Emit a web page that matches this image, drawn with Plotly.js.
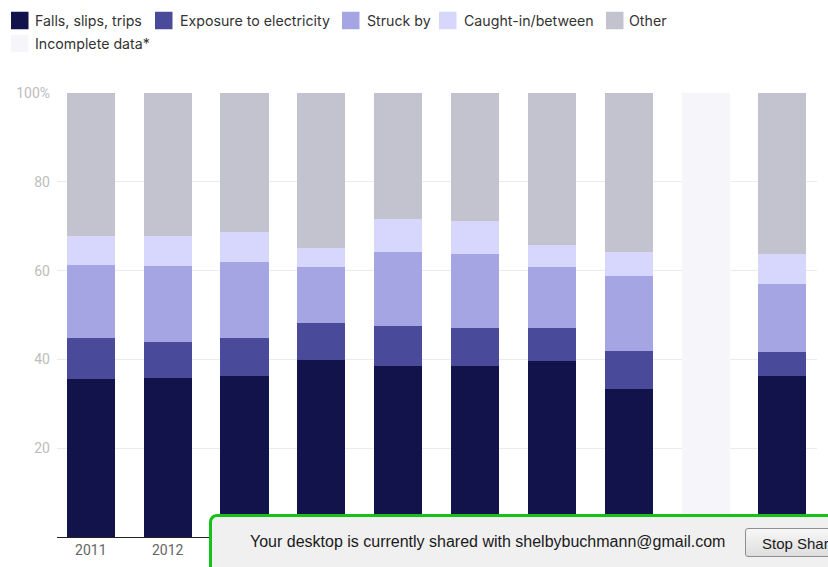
<!DOCTYPE html>
<html><head><meta charset="utf-8">
<script src="https://cdn.plot.ly/plotly-3.0.1.min.js"></script>
<style>
html,body{margin:0;padding:0;background:#fff;}
#wrap{position:relative;width:828px;height:567px;overflow:hidden;}
#chart{width:828px;height:567px;}
#share{position:absolute;left:209px;top:514px;width:640px;height:60px;box-sizing:border-box;border:3px solid #17c217;border-radius:8px;background:#f0f0f0;font-family:"Liberation Sans",Arial,sans-serif;font-size:16px;color:#1a1a1a;}
#share .msg{position:absolute;left:38px;top:16px;white-space:nowrap;}
#share .btn{position:absolute;left:533px;top:11px;width:110px;height:29px;box-sizing:border-box;border:1px solid #8f8f8f;border-radius:3px;background:linear-gradient(#f7f7f7,#dedede);padding:6px 0 0 16px;white-space:nowrap;font-size:15px;}
</style></head>
<body><div id="wrap"><div id="chart"></div>
<div id="share"><span class="msg">Your desktop is currently shared with shelbybuchmann@gmail.com</span><span class="btn">Stop Sharing</span></div></div>
<script>
const years = ['2011','2012','2013','2014','2015','2016','2017','2018','2019','2020'];
const falls       = [35.5, 35.7, 36.3, 39.8, 38.6, 38.6, 39.6, 33.4, null, 36.3];
const electricity = [9.4, 8.3, 8.6, 8.3, 8.9, 8.4, 7.4, 8.5, null, 5.3];
const struckBy    = [16.4, 17.0, 17.0, 12.6, 16.8, 16.7, 13.7, 16.8, null, 15.3];
const caughtIn    = [6.5, 6.8, 6.8, 4.5, 7.3, 7.4, 5.1, 5.6, null, 6.8];
const other       = [32.2, 32.2, 31.3, 34.8, 28.4, 28.9, 34.2, 35.7, null, 36.3];
const incomplete  = [null, null, null, null, null, null, null, null, 100, null];
const seriesNames = ['Falls, slips, trips','Exposure to electricity','Struck by','Caught-in/between','Other','Incomplete data*'];
const seriesColors = ['#13134b','#4a4a9a','#a5a5e3','#d7d7fd','#c3c3cf','#f6f5fa'];
const yTickVals = [0,20,40,60,80,100];
const yTickText = ['','20','40','60','80','100%'];

const allSeries = [falls, electricity, struckBy, caughtIn, other, incomplete];
const traces = allSeries.map((vals,i)=>({
  type:'bar', x:years, y:vals, name:seriesNames[i],
  marker:{color:seriesColors[i], line:{width:0}}, hoverinfo:'x+y+name', showlegend:false
}));

const W=828,H=567,L=57,R=11,T=93,B=30;
const pw=W-L-R, ph=H-T-B;
const px=x=>(x-L)/pw, py=y=>1-(y-T)/ph;
// custom legend: [swatch left, text left, row center y]
const legendPos = [[11,33,20.5],[155,178,20.5],[342,365,20.5],[439,462,20.5],[606,627,20.5],[11,33,43.5]];
const shapes=[], annotations=[];
legendPos.forEach((p,i)=>{
  shapes.push({type:'rect',xref:'paper',yref:'paper',x0:px(p[0]),x1:px(p[0]+17.5),y0:py(p[2]-8.75),y1:py(p[2]+8.75),fillcolor:seriesColors[i],line:{width:0}});
  annotations.push({xref:'paper',yref:'paper',x:px(p[1]),y:py(p[2]),xanchor:'left',yanchor:'middle',showarrow:false,text:seriesNames[i],font:{family:'Inter',size:14.2,color:'#333'}});
});

const layout={
  width:W,height:H,margin:{l:L,r:R,t:T,b:B,pad:0},
  paper_bgcolor:'#fff',plot_bgcolor:'#fff',
  barmode:'stack',bargap:0.375,showlegend:false,
  font:{family:'Roboto',size:14,color:'#333'},
  xaxis:{type:'category',range:[-0.44,9.45],showline:true,linecolor:'#222',linewidth:1,ticks:'',showgrid:false,
    tickfont:{family:'Roboto',size:14,color:'#666'},fixedrange:true},
  yaxis:{range:[0,100],tickvals:yTickVals,ticktext:yTickText,showgrid:true,gridcolor:'#ebebeb',gridwidth:1,zeroline:false,showline:false,ticks:'',
    ticklabelstandoff:6,tickfont:{family:'Roboto',size:14,color:'#bdbdbd'},fixedrange:true},
  shapes:shapes, annotations:annotations
};
Plotly.newPlot('chart',traces,layout,{displayModeBar:false,staticPlot:true});
</script></body></html>
